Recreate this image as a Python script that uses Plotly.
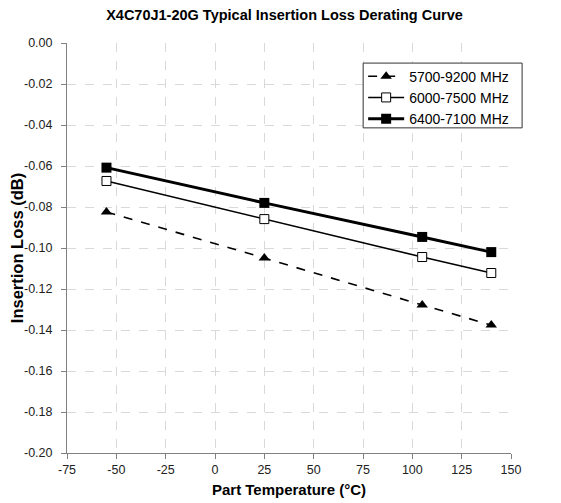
import plotly.graph_objects as go

temps = [-55, 25, 105, 140]
loss_5700_9200 = [-0.0824, -0.1049, -0.1278, -0.1376]
loss_6000_7500 = [-0.0673, -0.0859, -0.1044, -0.1122]
loss_6400_7100 = [-0.0608, -0.0780, -0.0946, -0.1020]
names = ["5700-9200 MHz", "6000-7500 MHz", "6400-7100 MHz"]
x_ticks = [-75, -50, -25, 0, 25, 50, 75, 100, 125, 150]
y_ticks = [0.00, -0.02, -0.04, -0.06, -0.08, -0.10, -0.12, -0.14, -0.16, -0.18, -0.20]

FONT = "Liberation Sans, Arial, sans-serif"

fig = go.Figure()
fig.add_trace(go.Scatter(
    x=temps, y=loss_5700_9200, name=names[0], mode="lines+markers",
    line=dict(color="black", width=1.6, dash="dash"),
    marker=dict(symbol="triangle-up", size=10, color="black")))
fig.add_trace(go.Scatter(
    x=temps, y=loss_6000_7500, name=names[1], mode="lines+markers",
    line=dict(color="black", width=1.6),
    marker=dict(symbol="square", size=9, color="white", line=dict(color="black", width=1))))
fig.add_trace(go.Scatter(
    x=temps, y=loss_6400_7100, name=names[2], mode="lines+markers",
    line=dict(color="black", width=3),
    marker=dict(symbol="square", size=10, color="black")))

axis_common = dict(
    showgrid=True, gridcolor="#d9d9d9", griddash="dash", gridwidth=1,
    showline=True, linecolor="#808080", linewidth=1,
    ticks="outside", tickcolor="#808080", ticklen=5,
    zeroline=False, automargin=False,
    tickfont=dict(family=FONT, size=12.5, color="#222"),
)

# legend frame (white box with dark border)
fig.add_shape(type="rect", xref="paper", yref="paper",
              x0=0.667, x1=1.025, y0=0.793, y1=0.951,
              fillcolor="white", line=dict(color="#333", width=1), layer="above")

fig.update_layout(
    width=553, height=495,
    margin=dict(l=59, r=50, t=35, b=50),
    paper_bgcolor="white", plot_bgcolor="white",
    title=dict(text="<b>X4C70J1-20G Typical Insertion Loss Derating Curve</b>",
               x=0.5, xanchor="center", y=0.996, yanchor="top",
               font=dict(family=FONT, size=14.5, color="black")),
    xaxis=dict(range=[-75, 150], tickvals=x_ticks, ticktext=[str(v) for v in x_ticks],
               title=dict(text="<b>Part Temperature (°C)</b>", standoff=8,
                          font=dict(family=FONT, size=15, color="black")),
               **axis_common),
    yaxis=dict(range=[-0.20, 0.0], tickvals=y_ticks, ticktext=[f"{v:.2f}" for v in y_ticks],
               ticklabelstandoff=6,
               title=dict(text="<b>Insertion Loss (dB)</b>", standoff=3,
                          font=dict(family=FONT, size=16.5, color="black")),
               **axis_common),
    legend=dict(x=0.667, y=0.957, xanchor="left", yanchor="top",
                bgcolor="rgba(0,0,0,0)", borderwidth=0,
                font=dict(family=FONT, size=14, color="black"),
                tracegroupgap=0, itemwidth=36),
    showlegend=True,
)

fig.write_html("out.html")
